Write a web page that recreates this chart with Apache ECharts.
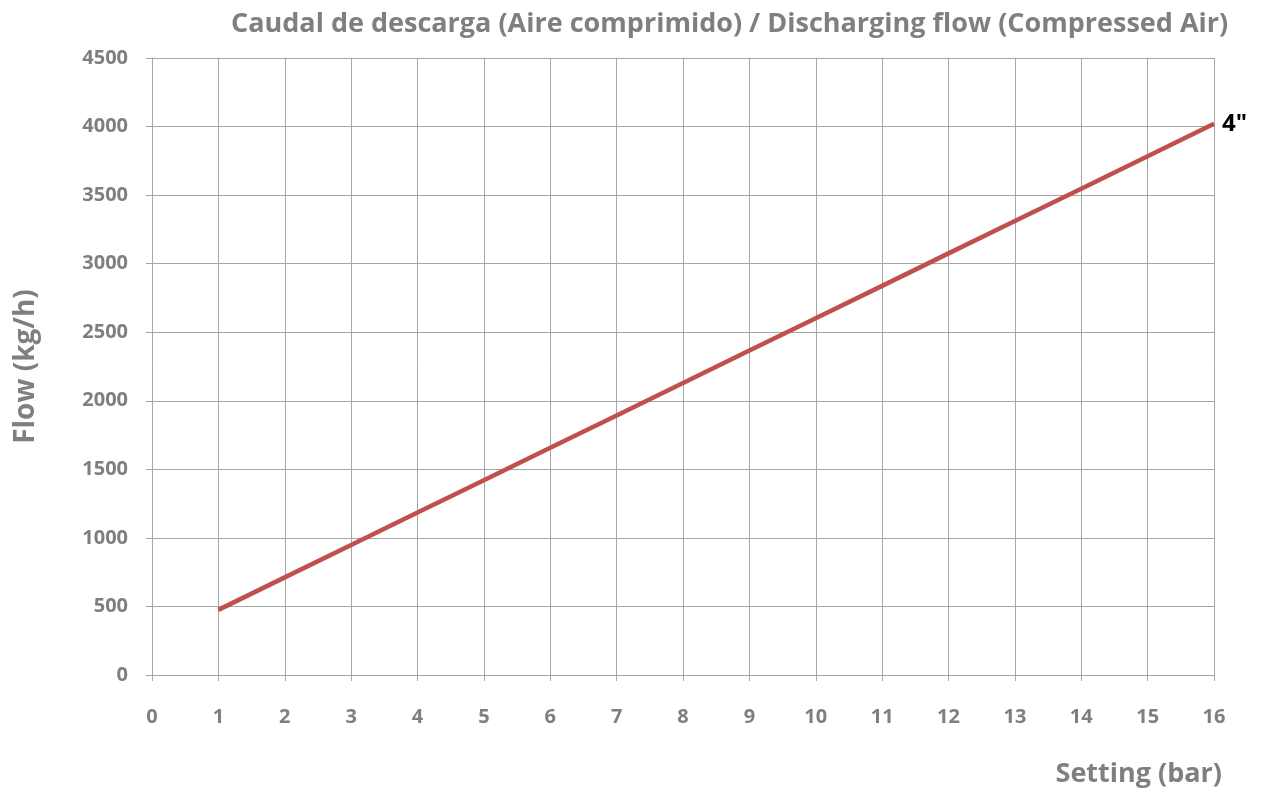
<!DOCTYPE html>
<html>
<head>
    <meta charset="utf-8">
    <title>Discharging flow</title>
    <script src="https://cdn.jsdelivr.net/npm/echarts@6/dist/echarts.min.js"></script>
    <style>
        html, body { margin: 0; padding: 0; background: #fff; }
        #chart1 { width: 1263px; height: 794px; }
    </style>
</head>
<body>
<div id="chart1"></div>
<script type="text/javascript">
    // 数据
    var settingBar = [1, 2, 3, 4, 5, 6, 7, 8, 9, 10, 11, 12, 13, 14, 15, 16];
    var flowKgH = [475, 712, 948, 1185, 1421, 1657, 1893, 2130, 2366, 2602, 2838, 3075, 3311, 3547, 3784, 4020];
    var seriesName = '4"';

    var grey = '#7f7f7f';
    var gridGrey = '#a6a6a6';
    var font = '"Open Sans", sans-serif';

    var myChart1 = echarts.init(document.getElementById('chart1'));

    var points = settingBar.map(function (x, i) { return [x, flowKgH[i]]; });

    myChart1.setOption({
        animation: false,
        title: {
            text: 'Caudal de descarga (Aire comprimido) / Discharging flow (Compressed Air)',
            left: 226,
            top: 6,
            textStyle: { color: grey, fontFamily: font, fontWeight: 'bold', fontSize: 27 }
        },
        grid: { left: 152, right: 49, top: 58, bottom: 119 },
        xAxis: {
            type: 'value',
            min: 0, max: 16, interval: 1,
            name: 'Setting (bar)',
            nameLocation: 'end',
            nameGap: 8,
            nameTextStyle: {
                color: grey, fontFamily: font, fontWeight: 'bold', fontSize: 27,
                align: 'right', verticalAlign: 'top', padding: [86, 0, 0, 0]
            },
            axisLine: { show: true, lineStyle: { color: gridGrey, width: 1 } },
            axisTick: { show: true, length: 6, lineStyle: { color: gridGrey } },
            axisLabel: { color: grey, fontFamily: font, fontWeight: 'bold', fontSize: 20, margin: 32 },
            splitLine: { show: true, lineStyle: { color: gridGrey, width: 1 } }
        },
        yAxis: {
            type: 'value',
            min: 0, max: 4500, interval: 500,
            name: 'Flow (kg/h)',
            nameLocation: 'middle',
            nameGap: 112,
            nameTextStyle: { color: grey, fontFamily: font, fontWeight: 'bold', fontSize: 28 },
            axisLine: { show: true, lineStyle: { color: gridGrey, width: 1 } },
            axisTick: { show: true, length: 6, lineStyle: { color: gridGrey } },
            axisLabel: {
                color: grey, fontFamily: font, fontWeight: 'bold', fontSize: 20, margin: 24,
                formatter: function (v) { return String(v); }
            },
            splitLine: { show: true, lineStyle: { color: gridGrey, width: 1 } }
        },
        series: [{
            name: seriesName,
            type: 'line',
            data: points,
            symbol: 'none',
            lineStyle: { color: '#c0504d', width: 4.5 },
            endLabel: {
                show: true,
                formatter: seriesName,
                color: '#000',
                fontFamily: font,
                fontWeight: 'bold',
                fontSize: 24,
                distance: 8
            }
        }]
    });
</script>
</body>
</html>
